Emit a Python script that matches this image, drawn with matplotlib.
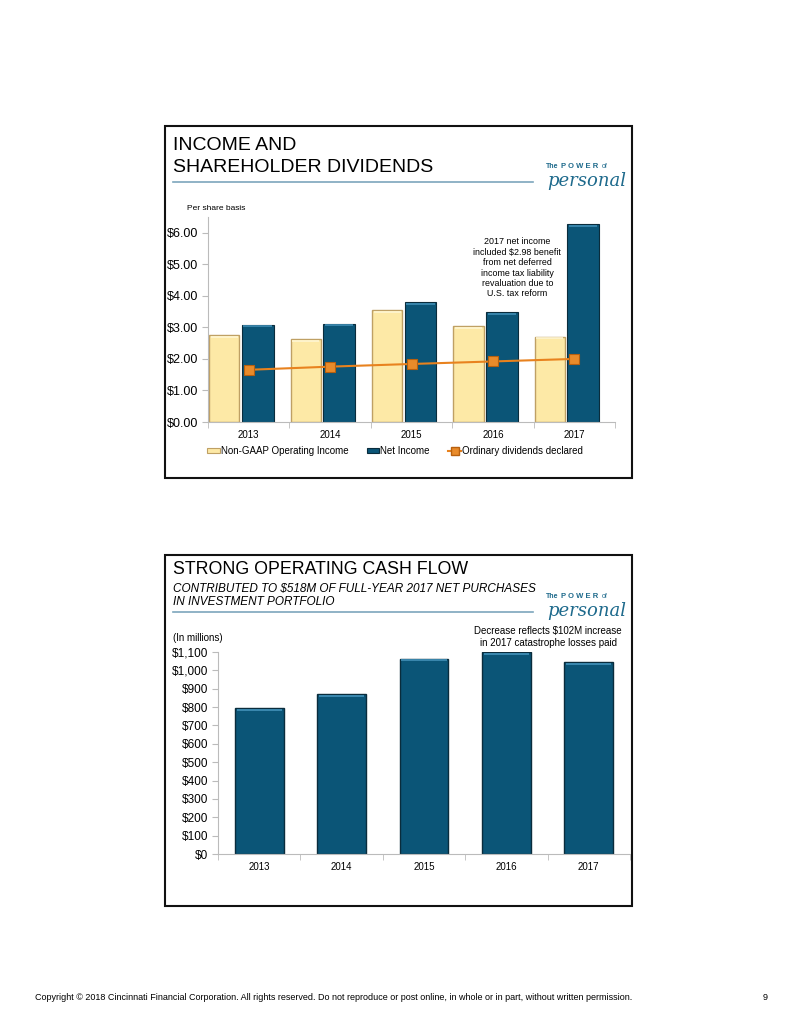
import matplotlib
matplotlib.use("Agg")
import matplotlib.pyplot as plt
from matplotlib.patches import Rectangle, Patch
from matplotlib.lines import Line2D
import numpy as np

plt.rcParams['font.family'] = ['Liberation Sans', 'DejaVu Sans']

# ---------------- data ----------------
years = ["2013", "2014", "2015", "2016", "2017"]
operating_income = [2.77, 2.63, 3.54, 3.03, 2.71]
net_income = [3.09, 3.12, 3.79, 3.50, 6.29]
dividends = [1.655, 1.755, 1.84, 1.92, 2.00]
top_yticks = [0, 1, 2, 3, 4, 5, 6]
top_yticklabels = ["$0.00", "$1.00", "$2.00", "$3.00", "$4.00", "$5.00", "$6.00"]

cash_flow = [795, 872, 1064, 1099, 1047]
bot_yticks = list(range(0, 1101, 100))
bot_yticklabels = ["$0", "$100", "$200", "$300", "$400", "$500", "$600",
                   "$700", "$800", "$900", "$1,000", "$1,100"]

W, H = 799, 1034
fig = plt.figure(figsize=(W / 100, H / 100), dpi=100)
fig.patch.set_facecolor("white")


def fx(x):
    return x / W


def fy(y):
    return 1 - y / H


def axes_px(l, t, r, b):
    return fig.add_axes([fx(l), fy(b), (r - l) / W, (b - t) / H])


YELLOW = "#FDE9A6"
YEDGE = "#BFA064"
YSTRIPE = "#FFF6D2"
BLUE = "#0B5577"
BEDGE = "#0A2C3C"
BSTRIPE = "#3F8DB4"
ORANGE = "#E8821E"
LINEC = "#7DA6BC"
LOGO = "#1E6A8C"

# panel boxes
for (l, t, r, b) in [(165, 126, 632, 478), (165, 555, 632, 906)]:
    fig.patches.append(Rectangle((fx(l), fy(b)), (r - l) / W, (b - t) / H,
                                 transform=fig.transFigure, fill=False,
                                 edgecolor="#111111", linewidth=1.5))


def logo(y):
    fig.text(fx(546), fy(y), "The", fontsize=5, color=LOGO, ha="left", va="center",
             fontweight="bold")
    fig.text(fx(561), fy(y), "P O W E R", fontsize=5.5, color=LOGO, ha="left", va="center",
             fontweight="bold")
    fig.text(fx(602), fy(y), "of", fontsize=5, color=LOGO, ha="left", va="center")
    fig.text(fx(547), fy(y + 14), "personal", fontsize=13, color=LOGO, ha="left",
             va="center", family="DejaVu Serif", style="italic")


# ---------------- top panel ----------------
fig.text(fx(173), fy(145), "INCOME AND", fontsize=14, ha="left", va="center")
fig.text(fx(173), fy(168), "SHAREHOLDER DIVIDENDS", fontsize=14, ha="left", va="center")
fig.add_artist(Line2D([fx(173), fx(533)], [fy(182), fy(182)], color=LINEC, lw=1.2,
                      transform=fig.transFigure))
logo(167)
fig.text(fx(187), fy(208), "Per share basis", fontsize=6, ha="left", va="center")

ax = axes_px(208, 217, 615, 422)
x = np.arange(len(years))
op_off, op_w = -0.30, 0.37
ni_off, ni_w = 0.11, 0.39
ax.bar(x + op_off, operating_income, width=op_w, color=YELLOW, edgecolor=YEDGE, linewidth=1.0,
       label="Non-GAAP Operating Income")
ax.bar(x + ni_off, net_income, width=ni_w, color=BLUE, edgecolor=BEDGE, linewidth=0.8,
       label="Net Income")
ax.hlines(np.array(operating_income) - 0.06, x + op_off - op_w / 2 + 0.02,
          x + op_off + op_w / 2 - 0.02, color=YSTRIPE, lw=1.2)
ax.hlines(np.array(net_income) - 0.06, x + ni_off - ni_w / 2 + 0.02,
          x + ni_off + ni_w / 2 - 0.02, color=BSTRIPE, lw=1.2)
ax.plot(x, dividends, color=ORANGE, lw=1.5, marker="s", markersize=7.5,
        markerfacecolor="#E98B2A", markeredgecolor="#B8600E", markeredgewidth=0.8,
        label="Ordinary dividends declared")
ax.set_xlim(-0.5, 4.5)
ax.set_ylim(0, 6.5)
ax.set_yticks(top_yticks)
ax.set_yticklabels(top_yticklabels, fontsize=9)
ax.set_xticks(x)
ax.set_xticklabels(years, fontsize=7)
ax.set_xticks(np.arange(-0.5, 4.6, 1), minor=True)
ax.tick_params(axis="x", which="major", length=0, pad=6)
ax.tick_params(axis="x", which="minor", length=4, color="#BBBBBB")
ax.tick_params(axis="y", length=4, color="#BBBBBB", pad=3)
for s in ["top", "right"]:
    ax.spines[s].set_visible(False)
ax.spines["left"].set_color("#BBBBBB")
ax.spines["bottom"].set_color("#BBBBBB")
ax.text(3.3, 5.85, "2017 net income\nincluded $2.98 benefit\nfrom net deferred\n"
        "income tax liability\nrevaluation due to\nU.S. tax reform",
        fontsize=6.4, ha="center", va="top", linespacing=1.2)

handles = [Patch(facecolor=YELLOW, edgecolor=YEDGE, lw=0.8),
           Patch(facecolor=BLUE, edgecolor=BEDGE, lw=0.8),
           Line2D([0], [0], color=ORANGE, lw=1.5, marker="s", markersize=6,
                  markerfacecolor="#E98B2A", markeredgecolor="#B8600E")]
fig.legend(handles, ["Non-GAAP Operating Income", "Net Income", "Ordinary dividends declared"],
           loc="center", bbox_to_anchor=(fx(395), fy(451)), ncol=3, frameon=False,
           fontsize=7, handlelength=1.3, handleheight=0.5, handletextpad=0.1,
           columnspacing=1.9)

# ---------------- bottom panel ----------------
fig.text(fx(173), fy(570), "STRONG OPERATING CASH FLOW", fontsize=12.8, ha="left", va="center")
fig.text(fx(173), fy(589), "CONTRIBUTED TO $518M OF FULL-YEAR 2017 NET PURCHASES",
         fontsize=8.5, ha="left", va="center", style="italic")
fig.text(fx(173), fy(602), "IN INVESTMENT PORTFOLIO",
         fontsize=8.5, ha="left", va="center", style="italic")
fig.add_artist(Line2D([fx(173), fx(533)], [fy(612), fy(612)], color=LINEC, lw=1.2,
                      transform=fig.transFigure))
logo(597)
fig.text(fx(173), fy(638), "(In millions)", fontsize=7, ha="left", va="center")
fig.text(fx(548), fy(637), "Decrease reflects $102M increase\nin 2017 catastrophe losses paid",
         fontsize=7, ha="center", va="center", linespacing=1.25)

ax2 = axes_px(218, 652, 630, 854)
cf_w = 0.59
ax2.bar(x, cash_flow, width=cf_w, color=BLUE, edgecolor=BEDGE, linewidth=1.0)
ax2.hlines(np.array(cash_flow) - 10, x - cf_w / 2 + 0.02, x + cf_w / 2 - 0.02,
           color=BSTRIPE, lw=1.3)
ax2.set_xlim(-0.5, 4.5)
ax2.set_ylim(0, 1100)
ax2.set_yticks(bot_yticks)
ax2.set_yticklabels(bot_yticklabels, fontsize=8.5)
ax2.set_xticks(x)
ax2.set_xticklabels(years, fontsize=7)
ax2.set_xticks(np.arange(-0.5, 4.6, 1), minor=True)
ax2.tick_params(axis="x", which="major", length=0, pad=6)
ax2.tick_params(axis="x", which="minor", length=4, color="#BBBBBB")
ax2.tick_params(axis="y", length=4, color="#BBBBBB", pad=3)
for s in ["top", "right"]:
    ax2.spines[s].set_visible(False)
ax2.spines["left"].set_color("#BBBBBB")
ax2.spines["bottom"].set_color("#BBBBBB")

# footer
fig.text(fx(35), fy(998), "Copyright \u00a9 2018 Cincinnati Financial Corporation. All rights reserved. "
         "Do not reproduce or post online, in whole or in part, without written permission.",
         fontsize=6.5, ha="left", va="center")
fig.text(fx(763), fy(998), "9", fontsize=6.5, ha="left", va="center")

fig.savefig("out.png", dpi=100)
